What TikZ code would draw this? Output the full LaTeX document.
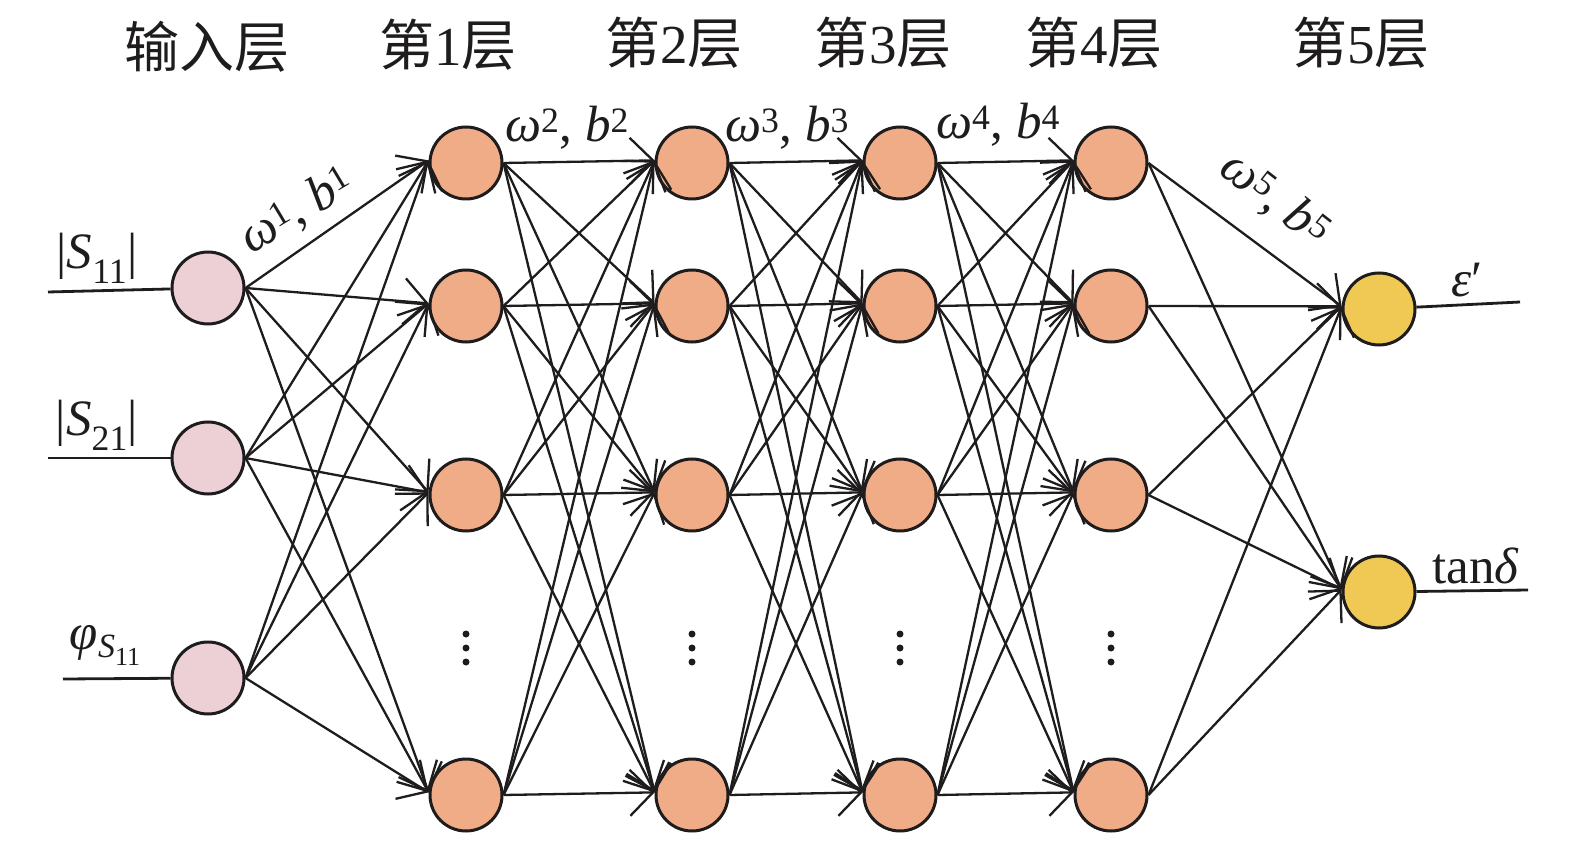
\documentclass[tikz,border=0pt]{standalone}
\usepackage{fontspec}
\setmainfont{Liberation Serif}
\newfontfamily\cjk{Noto Sans CJK SC}
\usetikzlibrary{arrows.meta}
\definecolor{inpink}{RGB}{236,208,213}
\definecolor{hidorange}{RGB}{240,172,134}
\definecolor{outyellow}{RGB}{240,200,84}
\definecolor{ink}{RGB}{30,28,28}
\begin{document}
\begin{tikzpicture}[x=1pt,y=-1pt,
  neuron/.style={circle, draw=ink, line width=3pt, minimum size=72pt, inner sep=0pt},
  inp/.style={neuron, fill=inpink},
  hid/.style={neuron, fill=hidorange},
  outn/.style={neuron, fill=outyellow},
  conn/.style={draw=ink, line width=2.3pt, -{Straight Barb[length=23pt,width=46pt,line width=2.3pt]}},
  plain/.style={draw=ink, line width=2.8pt},
  ttl/.style={font=\fontsize{55}{60}\selectfont, text=ink, inner sep=0pt},
  lab/.style={font=\fontsize{51}{56}\selectfont, text=ink, inner sep=0pt},
  vdot/.style={circle, fill=ink, inner sep=0pt, minimum size=7pt}
]
\useasboundingbox (0,0) rectangle (1575,842);

% titles
\node[ttl] (t0) at (207,47) {\cjk 输入层};
\node[ttl] (t1) at (448,45) {{\cjk 第}1{\cjk 层}};
\node[ttl] (t2) at (674,43) {{\cjk 第}2{\cjk 层}};
\node[ttl] (t3) at (883,43) {{\cjk 第}3{\cjk 层}};
\node[ttl] (t4) at (1094,43) {{\cjk 第}4{\cjk 层}};
\node[ttl] (t5) at (1361,43) {{\cjk 第}5{\cjk 层}};

% neurons
\node[inp] (i1) at (208,288) {};
\node[inp] (i2) at (208,458) {};
\node[inp] (i3) at (208,678) {};
\foreach \c/\x in {a/466,b/692,c/900,d/1111}{
  \node[hid] (\c1) at (\x,163) {};
  \node[hid] (\c2) at (\x,306) {};
  \node[hid] (\c3) at (\x,495) {};
  \node[hid] (\c4) at (\x,795) {};
  \node[vdot] (\c dA) at (\x,634) {};
  \node[vdot] (\c dB) at (\x,648) {};
  \node[vdot] (\c dC) at (\x,662) {};
}
\node[outn] (o1) at (1379,309) {};
\node[outn] (o2) at (1379,592) {};

% connections
\foreach \s in {1,2,3}{\foreach \t in {1,2,3,4}{\draw[conn] (i\s.east) -- (a\t.176);}}
\foreach \p/\q in {a/b,b/c,c/d}{
  \foreach \s in {1,2,3,4}{\foreach \t in {1,2,3,4}{\draw[conn] (\p\s.east) -- (\q\t.176);}}
}
\foreach \s in {1,2,3,4}{\foreach \t in {1,2}{\draw[conn] (d\s.east) -- (o\t.176);}}

% input / output lines
\coordinate (s1) at (48,292);
\coordinate (s2) at (48,458);
\coordinate (s3) at (63,679);
\coordinate (e1) at (1520,302);
\coordinate (e2) at (1528,590);
\draw[plain] (s1) -- (i1);
\draw[plain] (s2) -- (i2);
\draw[plain] (s3) -- (i3);
\draw[plain] (o1) -- (e1);
\draw[plain] (o2) -- (e2);

% labels
\node[lab] (l1) at (97,258) {|\textit{S}\textsubscript{11}|};
\node[lab] (l2) at (97,425) {|\textit{S}\textsubscript{21}|};
\node[lab] (l3) at (105,645) {\textit{φ}\raisebox{-8pt}{\fontsize{34}{38}\selectfont\textit{S}\raisebox{-8pt}{\fontsize{26}{30}\selectfont 11}}};
\node[lab] (l4) at (1467,280) {\textit{ε}′};
\node[lab] (l5) at (1476,566) {tan\textit{δ}};
\node[lab, rotate=31] (w1) at (297,211) {\textit{ω}\textsuperscript{1}, \textit{b}\textsuperscript{1}};
\node[lab] (w2) at (567,128) {\textit{ω}\textsuperscript{2}, \textit{b}\textsuperscript{2}};
\node[lab] (w3) at (787,128) {\textit{ω}\textsuperscript{3}, \textit{b}\textsuperscript{3}};
\node[lab] (w4) at (998,125) {\textit{ω}\textsuperscript{4}, \textit{b}\textsuperscript{4}};
\node[lab, rotate=-38] (w5) at (1275,200) {\textit{ω}\textsuperscript{5}, \textit{b}\textsuperscript{5}};
\end{tikzpicture}
\end{document}
